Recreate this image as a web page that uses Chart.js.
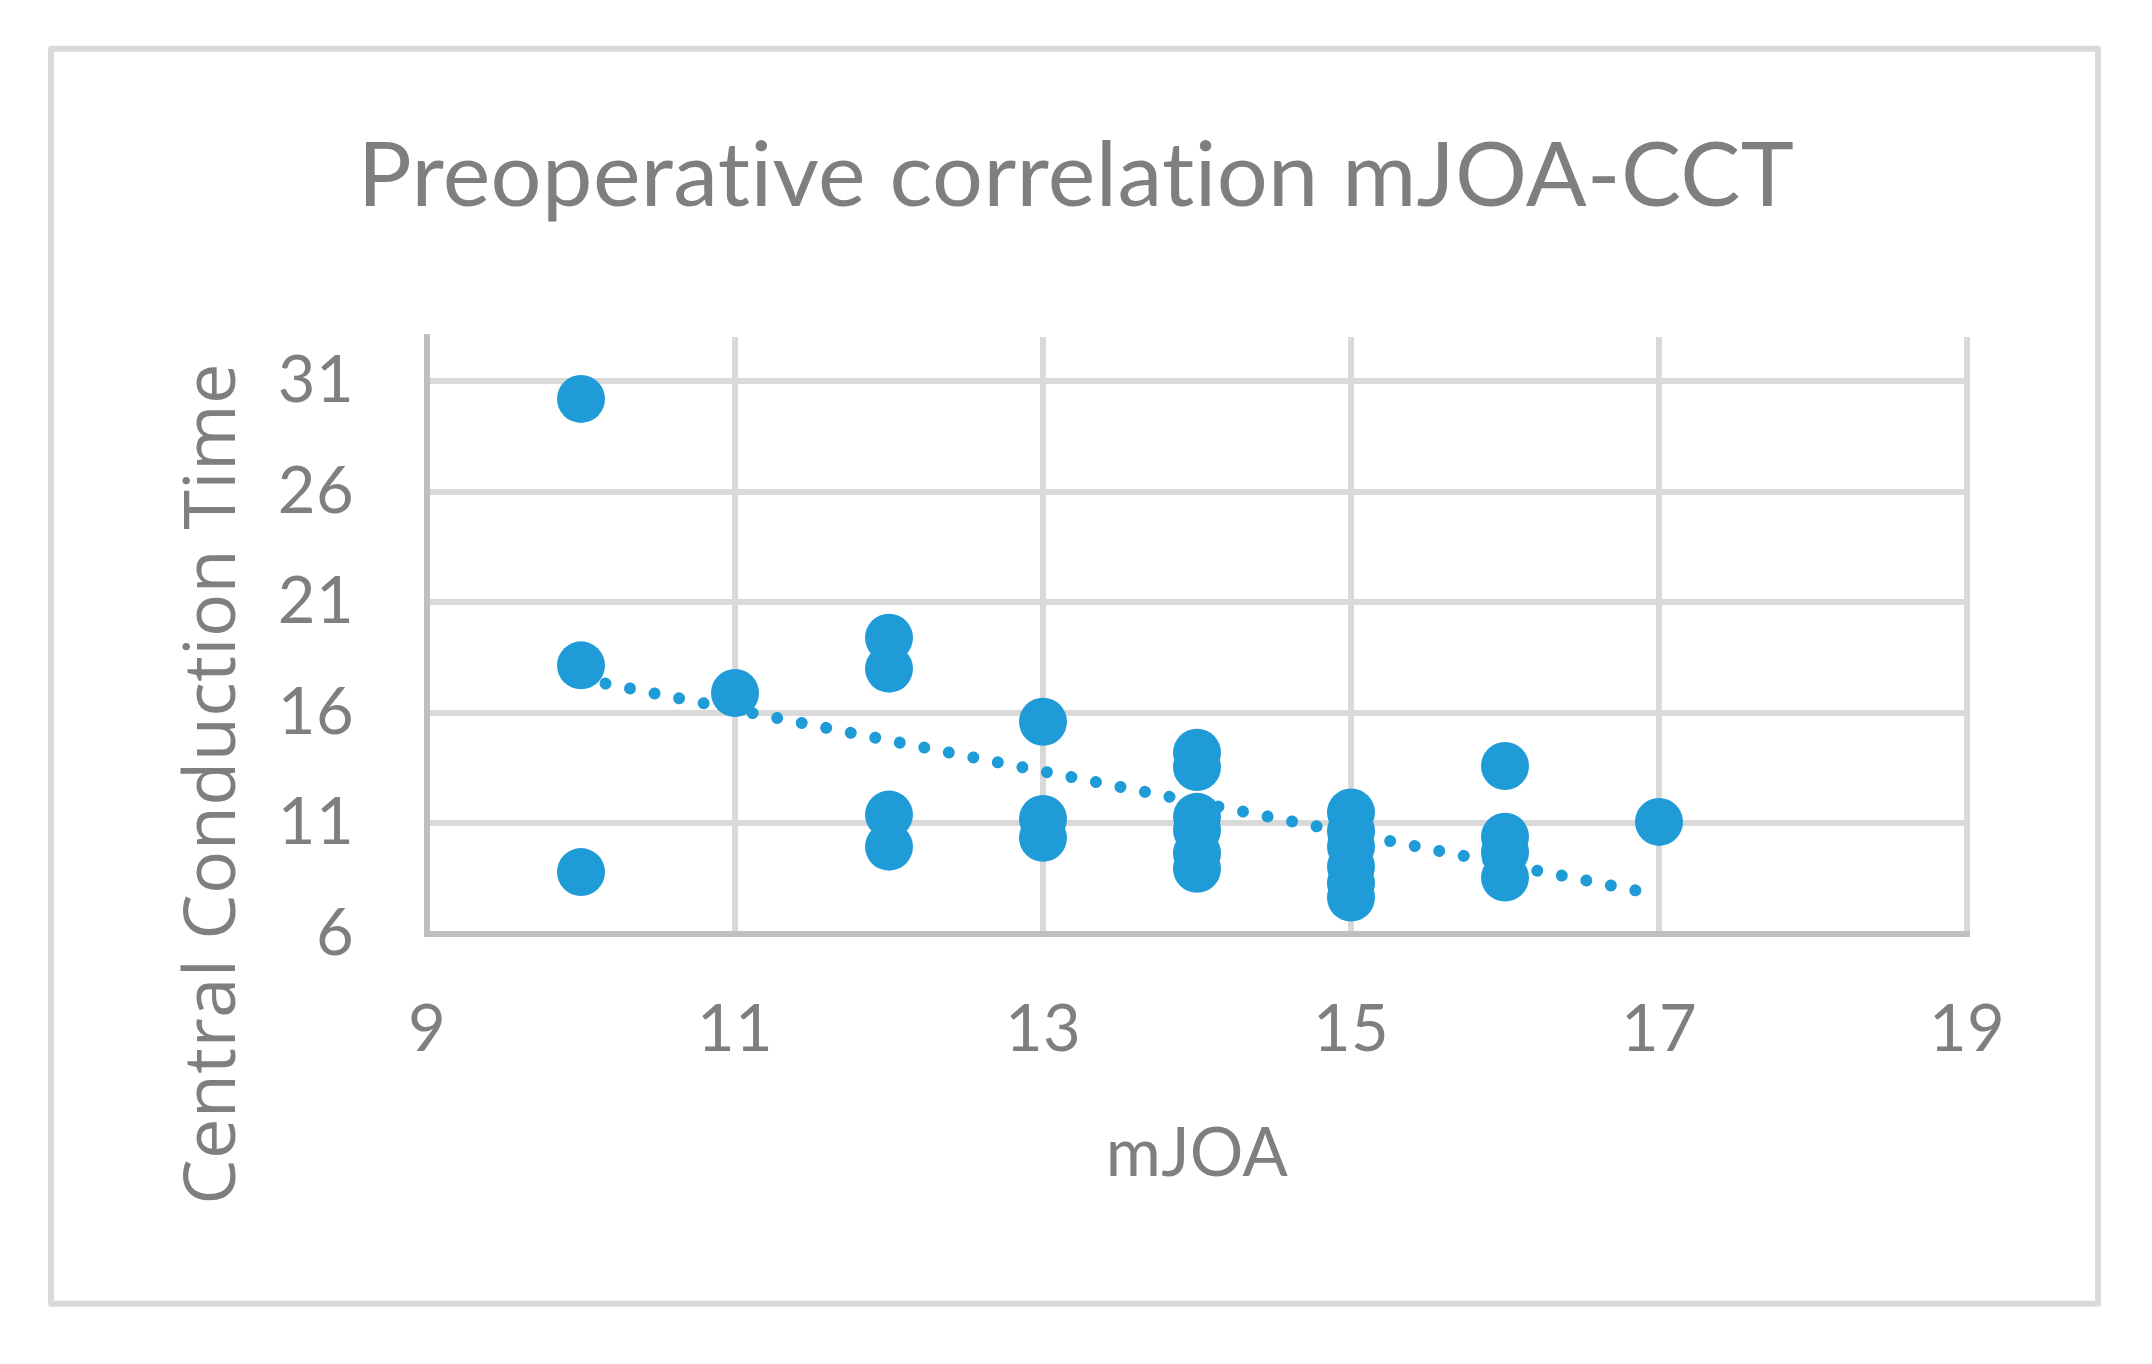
<!DOCTYPE html>
<html>
<head>
<meta charset="utf-8">
<script src="https://cdn.jsdelivr.net/npm/chart.js@4.4.1/dist/chart.umd.min.js"></script>
<style>
  html, body { margin: 0; padding: 0; background: #ffffff; }
  #wrap { width: 2152px; height: 1364px; }
</style>
</head>
<body>
<div id="wrap"><canvas id="c" width="2152" height="1364"></canvas></div>
<script>
// ---- data ----
const chartTitle = "Preoperative correlation mJOA-CCT";
const xTitle = "mJOA";
const yTitle = "Central Conduction Time";

const mjoa = [10, 10, 10, 11, 12, 12, 12, 12, 13, 13, 13,
              14, 14, 14, 14, 14, 14, 15, 15, 15, 15, 15, 15,
              16, 16, 16, 16, 17];
const cct  = [30.2, 18.15, 8.8, 16.9, 19.4, 18.0, 11.4, 9.95, 15.6, 11.2, 10.35,
              14.2, 13.55, 11.3, 10.7, 9.65, 8.95, 11.5, 10.65, 9.95, 9.05, 8.3, 7.65,
              13.6, 10.4, 9.7, 8.55, 11.07];

const trendX = [10, 16.9];
const trendY = [17.55, 7.9];

const xTicks = [9, 11, 13, 15, 17, 19];
const yTicks = [6, 11, 16, 21, 26, 31];
const xRange = [9, 19];
const yRange = [6, 33];

// ---- styling ----
const BLUE = '#1F9BD7';
const TEXT = '#7F7F7F';
const GRID = '#D9D9D9';
const AXIS = '#BFBFBF';

const points = mjoa.map((x, i) => ({ x: x, y: cct[i] }));
const trend = trendX.map((x, i) => ({ x: x, y: trendY[i] }));

const frame = {
  id: 'frame',
  beforeDraw(chart) {
    const ctx = chart.ctx;
    ctx.save();
    ctx.fillStyle = '#ffffff';
    ctx.fillRect(0, 0, chart.width, chart.height);
    ctx.strokeStyle = GRID;
    ctx.lineWidth = 6;
    ctx.lineJoin = 'round';
    ctx.strokeRect(51, 48.7, 2098 - 51, 1303.7 - 48.7);
    ctx.restore();
    // a tiny letter spacing keeps the browser from forming ligatures
    try { ctx.letterSpacing = '0.4px'; } catch (e) {}
  }
};

const yTitlePlugin = {
  id: 'yTitle',
  afterDraw(chart) {
    const ctx = chart.ctx;
    ctx.save();
    ctx.translate(235, 784);
    ctx.rotate(-Math.PI / 2);
    ctx.font = '72px "Open Sans"';
    ctx.fillStyle = TEXT;
    ctx.textAlign = 'center';
    ctx.textBaseline = 'alphabetic';
    ctx.fillText(yTitle, 0, 0);
    ctx.restore();
  }
};

new Chart(document.getElementById('c'), {
  type: 'scatter',
  data: {
    datasets: [
      {
        label: 'CCT',
        data: points,
        backgroundColor: BLUE,
        borderColor: BLUE,
        pointRadius: 24,
        pointHoverRadius: 24,
        pointBorderWidth: 0,
        showLine: false,
        order: 2
      },
      {
        type: 'line',
        label: 'Trend',
        data: trend,
        borderColor: BLUE,
        borderWidth: 12,
        borderDash: [0.01, 25],
        borderCapStyle: 'round',
        pointRadius: 0,
        fill: false,
        tension: 0,
        order: 1
      }
    ]
  },
  options: {
    responsive: false,
    devicePixelRatio: 1,
    animation: false,
    events: [],
    layout: { padding: { left: 0, right: 0, top: 0, bottom: 0 } },
    plugins: {
      legend: { display: false },
      tooltip: { enabled: false },
      title: {
        display: true,
        text: chartTitle,
        color: TEXT,
        font: { family: 'Lato', size: 90, weight: 'normal', lineHeight: 1.2 },
        padding: { top: 123, bottom: 106 }
      }
    },
    scales: {
      x: {
        type: 'linear',
        min: xRange[0],
        max: xRange[1],
        afterBuildTicks: (s) => { s.ticks = xTicks.map(v => ({ value: v })); },
        afterFit: (s) => { s.height = 430; },
        grid: {
          color: (c) => (c.tick && c.tick.value === xRange[0]) ? 'rgba(0,0,0,0)' : GRID,
          lineWidth: 6,
          drawTicks: false
        },
        border: { display: true, color: AXIS, width: 6 },
        ticks: {
          color: TEXT,
          font: { family: 'Lato', size: 65, lineHeight: 1.2 },
          padding: 57,
          maxRotation: 0
        },
        title: {
          display: true,
          text: xTitle,
          color: TEXT,
          font: { family: 'Lato', size: 67, lineHeight: 1.2 },
          padding: { top: 0, bottom: 169 }
        }
      },
      y: {
        type: 'linear',
        min: yRange[0],
        max: yRange[1],
        afterBuildTicks: (s) => { s.ticks = yTicks.map(v => ({ value: v })); },
        afterFit: (s) => { s.width = 427; },
        grid: {
          color: (c) => (c.tick && c.tick.value === yRange[0]) ? 'rgba(0,0,0,0)' : GRID,
          lineWidth: 6,
          drawTicks: false
        },
        border: { display: true, color: AXIS, width: 6 },
        ticks: {
          color: TEXT,
          font: { family: 'Lato', size: 65, lineHeight: 1.2 },
          padding: 73
        },
        title: { display: false }
      },
      yRight: {
        type: 'linear',
        position: 'right',
        display: true,
        min: yRange[0],
        max: yRange[1],
        afterFit: (s) => { s.width = 185; },
        grid: { display: false, drawTicks: false },
        border: { display: false },
        ticks: { display: false }
      }
    }
  },
  plugins: [frame, yTitlePlugin]
});
</script>
</body>
</html>
